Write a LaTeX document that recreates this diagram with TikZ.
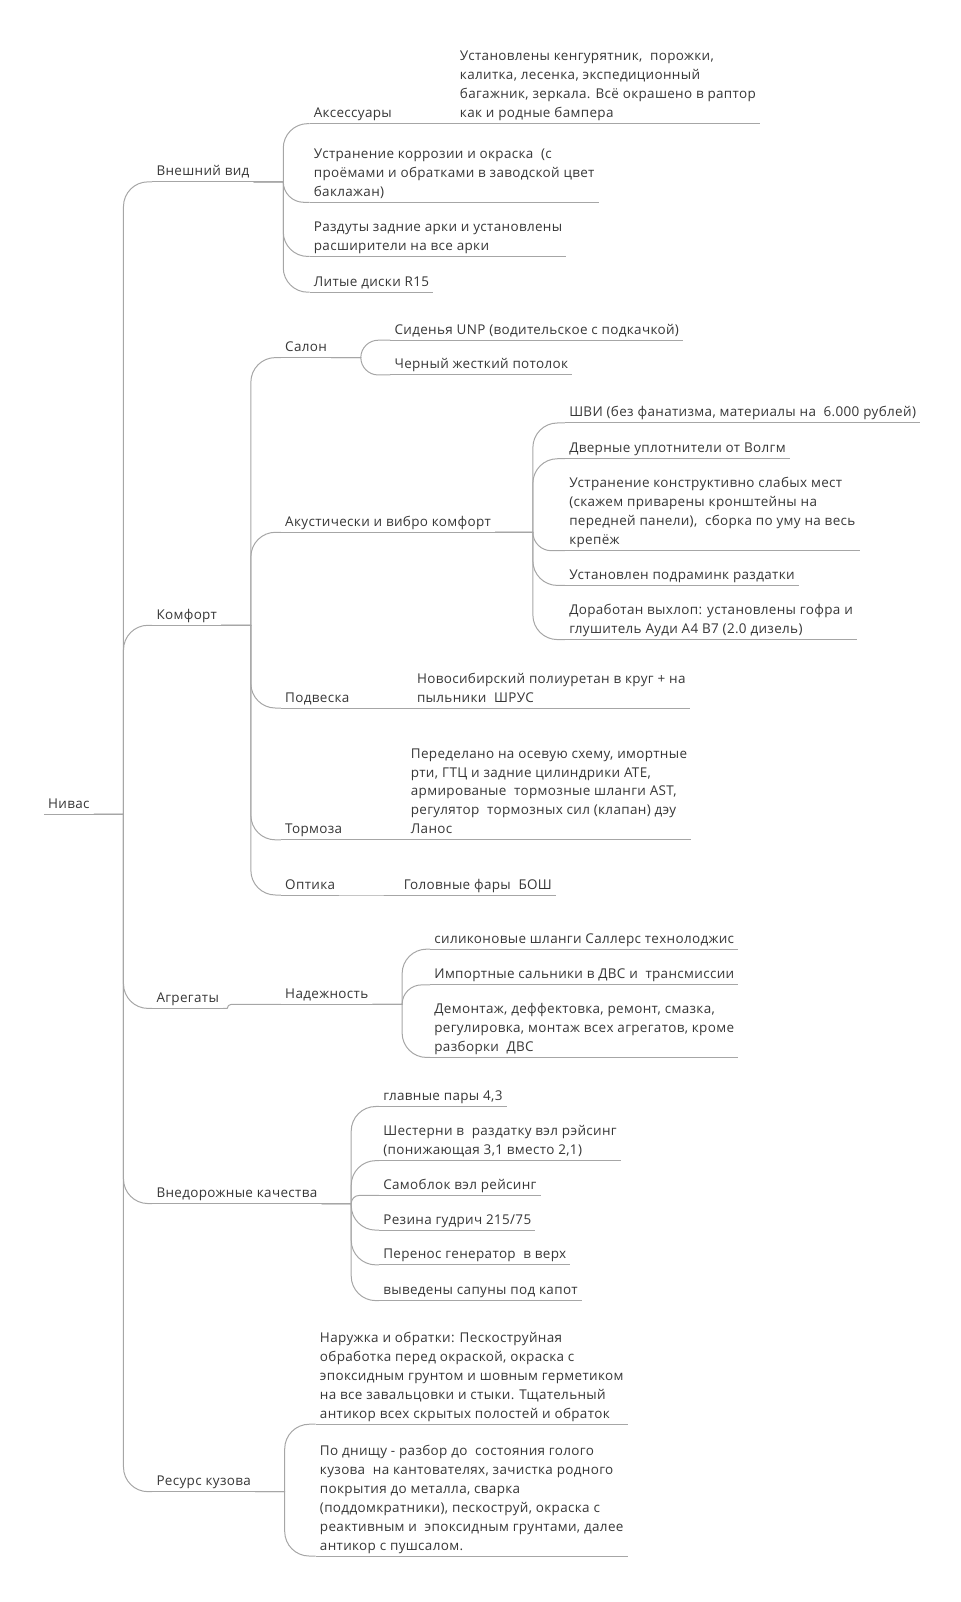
\documentclass[tikz,border=0pt]{standalone}
\usepackage{fontspec}
\setmainfont{Open Sans}[LetterSpace=2.5]
\usetikzlibrary{calc}
\definecolor{ktext}{HTML}{363636}
\definecolor{kline}{HTML}{A6A6A6}
\tikzset{
  item/.style={anchor=south west, inner xsep=3pt, inner ysep=4.3pt, text depth=0pt,
    align=left, text=ktext, font=\fontsize{10.1}{14.2}\selectfont},
  link/.style={draw=kline, line width=0.75pt},
  branch/.style={to path={
    let \p1=($(\tikztostart)+(#1,0)$), \p2=(\tikztotarget),
        \n1={max(-18.4,min(18.4,\y2-\y1))} in
    (\tikztostart) -- (\p1) -- (\x1,{\y2-\n1})
    .. controls (\x1,{\y2-0.448*\n1}) and ({\x1+0.448*abs(\n1)},\y2) .. ({\x1+abs(\n1)},\y2)
    -- (\tikztotarget)}},
  branch/.default=29
}

\begin{document}
\begin{tikzpicture}[x=0.766pt, y=-0.766pt]
  \useasboundingbox (0,0) rectangle (940,1568);

  %% root and main branches
  \node[item] (niv)  at (43,797)   {Нивас};
  \node[item] (vid)  at (149,178)  {Внешний вид};
  \node[item] (komf) at (149,612)  {Комфорт};
  \node[item] (agr)  at (149,987)  {Агрегаты};
  \node[item] (vned) at (149,1178) {Внедорожные качества};
  \node[item] (res)  at (149,1460) {Ресурс кузова};

  %% Внешний вид
  \node[item] (acc)   at (303,121) {Аксессуары};
  \node[item] (acc-a) at (446,121)
    {Установлены кенгурятник, \ порожки,\\калитка, лесенка, экспедиционный\\багажник, зеркала. Всё окрашено в раптор\\как и родные бампера};
  \node[item] (korr) at (303,198)
    {Устранение коррозии и окраска \ (с\\проёмами и обратками в заводской цвет\\баклажан)};
  \node[item] (razd) at (303,251)
    {Раздуты задние арки и установлены\\расширители на все арки};
  \node[item] (lit)  at (303,286) {Литые диски R15};

  %% Комфорт
  \node[item] (salon) at (275,350) {Салон};
  \node[item] (sid)   at (382,333) {Сиденья UNP (водительское с подкачкой)};
  \node[item] (cher)  at (382,367) {Черный жесткий потолок};

  \node[item] (akust) at (275,521) {Акустически и вибро комфорт};
  \node[item] (shvi)  at (553,414) {ШВИ (без фанатизма, материалы на \ 6.000 рублей)};
  \node[item] (dver)  at (553,449) {Дверные уплотнители от Волгм};
  \node[item] (ustr)  at (553,539)
    {Устранение конструктивно слабых мест\\(скажем приварены кронштейны на\\передней панели), \ сборка по уму на весь\\крепёж};
  \node[item] (podr)  at (553,573) {Установлен подраминк раздатки};
  \node[item] (vykh)  at (553,626)
    {Доработан выхлоп: установлены гофра и\\глушитель Ауди А4 В7 (2.0 дизель)};

  \node[item] (podv)   at (275,693) {Подвеска};
  \node[item] (podv-a) at (404,693)
    {Новосибирский полиуретан в круг + на\\пыльники \ ШРУС};
  \node[item] (torm)   at (275,822) {Тормоза};
  \node[item] (torm-a) at (398,822)
    {Переделано на осевую схему, имортные\\рти, ГТЦ и задние цилиндрики АТЕ,\\армированые \ тормозные шланги AST,\\регулятор \ тормозных сил (клапан) дэу\\Ланос};
  \node[item] (opt)    at (275,876) {Оптика};
  \node[item] (opt-a)  at (391,876) {Головные фары \ БОШ};

  %% Агрегаты
  \node[item] (nad) at (275,983) {Надежность};
  \node[item] (sil) at (421,929) {силиконовые шланги Саллерс технолоджис};
  \node[item] (imp) at (421,964) {Импортные сальники в ДВС и \ трансмиссии};
  \node[item] (dem) at (421,1035)
    {Демонтаж, деффектовка, ремонт, смазка,\\регулировка, монтаж всех агрегатов, кроме\\разборки \ ДВС};

  %% Внедорожные качества
  \node[item] (glav)  at (371,1083) {главные пары 4,3};
  \node[item] (shest) at (371,1136)
    {Шестерни в \ раздатку вэл рэйсинг\\(понижающая 3,1 вместо 2,1)};
  \node[item] (samo)  at (371,1170) {Самоблок вэл рейсинг};
  \node[item] (rez)   at (371,1204) {Резина гудрич 215/75};
  \node[item] (pere)  at (371,1238) {Перенос генератор \ в верх};
  \node[item] (vyv)   at (371,1273) {выведены сапуны под капот};

  %% Ресурс кузова
  \node[item] (nar) at (309,1394)
    {Наружка и обратки: Пескоструйная\\обработка перед окраской, окраска с\\эпоксидным грунтом и шовным герметиком\\на все завальцовки и стыки. Тщательный\\антикор всех скрытых полостей и обраток};
  \node[item] (dno) at (309,1523)
    {По днищу - разбор до \ состояния голого\\кузова \ на кантователях, зачистка родного\\покрытия до металла, сварка\\(поддомкратники), пескоструй, окраска с\\реактивным и \ эпоксидным грунтами, далее\\антикор с пушсалом.};

  %% underlines
  \foreach \n in {niv, vid, komf, agr, vned, res, acc, acc-a, korr, razd, lit,
      salon, sid, cher, akust, shvi, dver, ustr, podr, vykh, podv, podv-a,
      torm, torm-a, opt, opt-a, nad, sil, imp, dem, glav, shest, samo, rez,
      pere, vyv, nar, dno}
    \draw[link] (\n.south west) -- (\n.south east);

  %% connectors
  \foreach \a/\b in {niv/vid, niv/komf, niv/agr, niv/vned, niv/res,
      vid/acc, vid/korr, vid/razd, vid/lit, acc/acc-a,
      komf/salon, komf/akust, komf/podv, komf/torm, komf/opt,
      salon/sid, salon/cher,
      podv/podv-a, torm/torm-a, opt/opt-a,
      nad/sil, nad/imp, nad/dem,
      vned/glav, vned/shest, vned/samo, vned/rez, vned/pere, vned/vyv,
      res/nar, res/dno}
    \draw[link] (\a.south east) to[branch] (\b.south west);
  \foreach \b in {shvi, dver, ustr, podr, vykh}
    \draw[link] (akust.south east) to[branch=37] (\b.south west);
  \draw[link] (agr.south east) to[branch=4] (nad.south west);

\end{tikzpicture}
\end{document}
